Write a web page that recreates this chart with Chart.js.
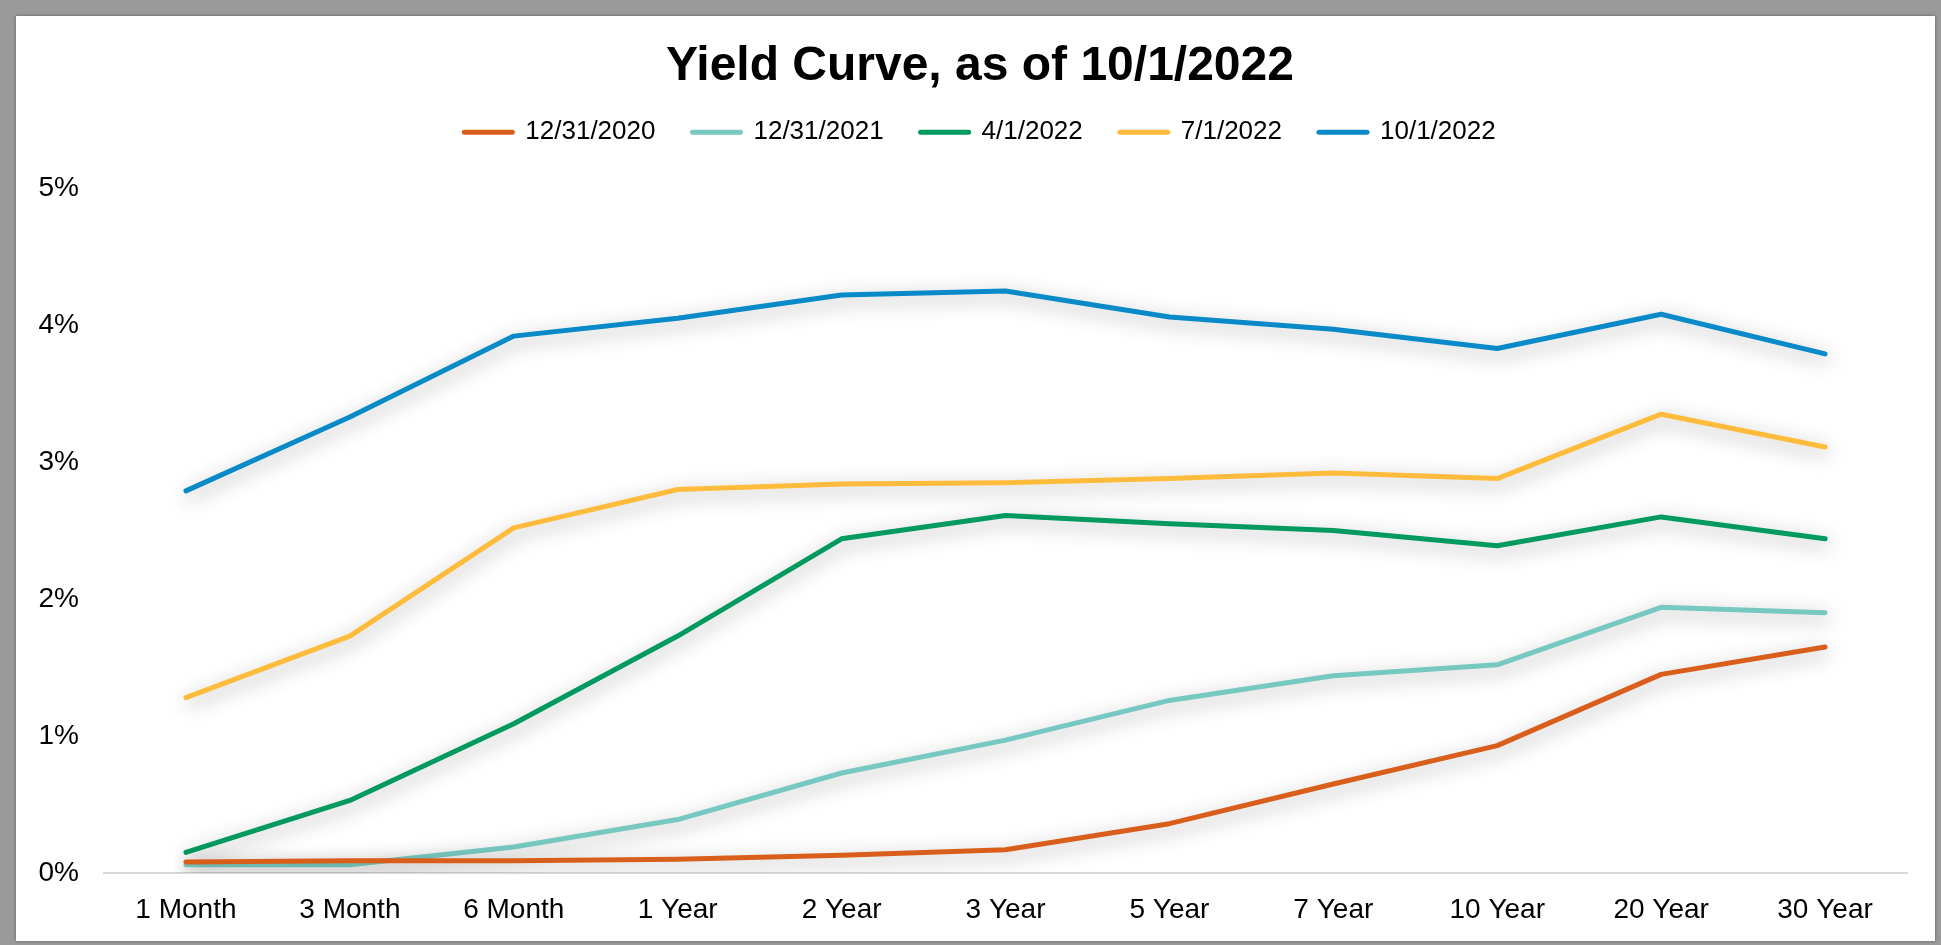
<!DOCTYPE html>
<html>
<head>
<meta charset="utf-8">
<script src="https://cdn.jsdelivr.net/npm/chart.js@4"></script>
<style>
  html, body { margin: 0; padding: 0; }
  body { width: 1941px; height: 945px; background: #9a9a9a; position: relative; overflow: hidden; }
  #frame {
    position: absolute; left: 16px; top: 16px; width: 1919px; height: 925px;
    background: #fff; box-shadow: 0 0 3px rgba(0,0,0,0.4);
  }
  #myChart { display: block; }
</style>
</head>
<body>
<div id="frame"><canvas id="myChart" width="1919" height="925"></canvas></div>
<script>
const maturities = ['1 Month', '3 Month', '6 Month', '1 Year', '2 Year', '3 Year', '5 Year', '7 Year', '10 Year', '20 Year', '30 Year'];

const curveDec2020 = [0.08, 0.09, 0.09, 0.10, 0.13, 0.17, 0.36, 0.65, 0.93, 1.45, 1.65];
const curveDec2021 = [0.06, 0.06, 0.19, 0.39, 0.73, 0.97, 1.26, 1.44, 1.52, 1.94, 1.90];
const curveApr2022 = [0.15, 0.53, 1.09, 1.73, 2.44, 2.61, 2.55, 2.50, 2.39, 2.60, 2.44];
const curveJul2022 = [1.28, 1.73, 2.52, 2.80, 2.84, 2.85, 2.88, 2.92, 2.88, 3.35, 3.11];
const curveOct2022 = [2.79, 3.33, 3.92, 4.05, 4.22, 4.25, 4.06, 3.97, 3.83, 4.08, 3.79];

const seriesLabels = ['12/31/2020', '12/31/2021', '4/1/2022', '7/1/2022', '10/1/2022'];
const seriesColors = ['#DA5E1B', '#76C8C1', '#009A5E', '#FFBC3C', '#0889C8'];
const seriesData = [curveDec2020, curveDec2021, curveApr2022, curveJul2022, curveOct2022];

const yTicks = [0, 1, 2, 3, 4, 5];

const FONT = "'Liberation Sans', Arial, sans-serif";

// soft grey glow under each line
const lineShadow = {
  id: 'lineShadow',
  beforeDatasetsDraw(chart) {
    const ctx = chart.ctx;
    ctx.save();
    ctx.shadowColor = 'rgba(0,0,0,0.38)';
    ctx.shadowBlur = 20;
    ctx.shadowOffsetX = 2;
    ctx.shadowOffsetY = 5;
  },
  afterDatasetsDraw(chart) {
    chart.ctx.restore();
  }
};

// extra room between legend and plot, and nudge title + legend right
const legendSpace = {
  id: 'legendSpace',
  afterInit(chart) {
    const fit = chart.legend.fit;
    chart.legend.fit = function () {
      fit.call(this);
      this.height += 33;
    };
  },
  afterLayout(chart) {
    chart.titleBlock.left += 37;
    chart.legend.left += 37;
  }
};

const ctx = document.getElementById('myChart');

const myChart = new Chart(ctx, {
  type: 'line',
  data: {
    labels: maturities,
    datasets: seriesLabels.map((label, i) => ({
      label: label,
      data: seriesData[i],
      borderColor: seriesColors[i],
      backgroundColor: seriesColors[i],
      borderWidth: 5,
      borderCapStyle: 'round',
      borderJoinStyle: 'round',
      pointRadius: 0,
      tension: 0
    }))
  },
  options: {
    responsive: false,
    animation: false,
    layout: {
      padding: { left: 0, right: 28, top: 0, bottom: 0 }
    },
    plugins: {
      title: {
        display: true,
        text: 'Yield Curve, as of 10/1/2022',
        color: '#000',
        font: { family: FONT, size: 48, weight: 'bold', lineHeight: 0.65 },
        padding: { top: 35, bottom: 0 }
      },
      legend: {
        position: 'top',
        align: 'center',
        labels: {
          color: '#000',
          font: { family: FONT, size: 26 },
          boxWidth: 48,
          boxHeight: 0.01,
          padding: 37,
          generateLabels(chart) {
            return chart.data.datasets.map((ds, i) => ({
              text: ds.label,
              fillStyle: ds.borderColor,
              strokeStyle: ds.borderColor,
              lineWidth: 5,
              lineCap: 'round',
              lineJoin: 'round',
              hidden: false,
              datasetIndex: i
            }));
          }
        }
      },
      tooltip: { enabled: false }
    },
    scales: {
      x: {
        offset: true,
        grid: { display: false, drawTicks: false },
        border: { display: true, color: '#d9d9d9', width: 2 },
        afterFit(scale) {
          scale.height = 68;
        },
        ticks: {
          color: '#000',
          font: { family: FONT, size: 28 },
          padding: 20,
          maxRotation: 0,
          autoSkip: false
        }
      },
      y: {
        min: 0,
        max: 5,
        afterBuildTicks(scale) {
          scale.ticks = yTicks.map(v => ({ value: v }));
        },
        afterFit(scale) {
          scale.width = 88;
        },
        grid: { display: false, drawTicks: false },
        border: { display: false },
        ticks: {
          color: '#000',
          font: { family: FONT, size: 28 },
          padding: 25,
          callback: v => v + '%'
        }
      }
    }
  },
  plugins: [lineShadow, legendSpace]
});
</script>
</body>
</html>
